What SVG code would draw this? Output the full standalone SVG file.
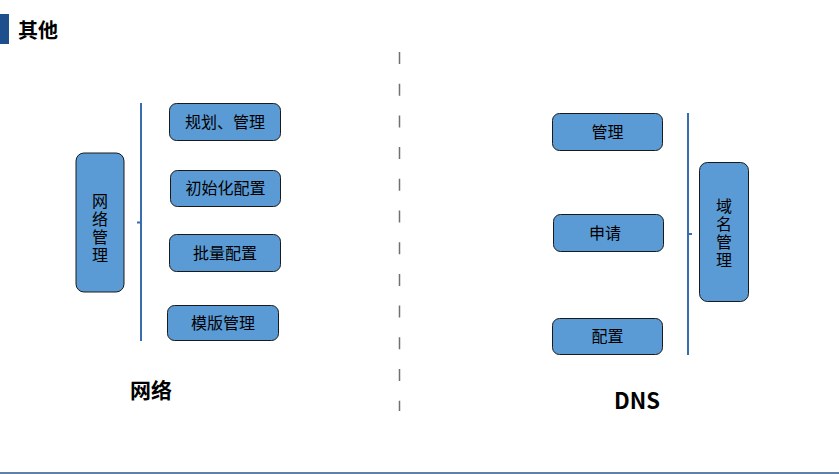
<svg xmlns="http://www.w3.org/2000/svg" width="839" height="474" viewBox="0 0 839 474">
<style>
.box{fill:#5B9BD5;stroke:#1a1a1a;stroke-width:1}
.t{font-family:"Noto Sans CJK SC","Liberation Sans",sans-serif;font-size:16px;fill:#000;text-anchor:middle}
.v{font-family:"Noto Sans CJK SC","Liberation Sans",sans-serif;font-size:16px;fill:#000;text-anchor:middle;writing-mode:vertical-rl;letter-spacing:2px}
.b{font-family:"Noto Sans CJK SC","Liberation Sans",sans-serif;font-size:20px;font-weight:bold;fill:#000}
.br{fill:none;stroke:#3A6DB0;stroke-width:2}
</style>
<rect x="0" y="0" width="839" height="474" fill="#fff"/>
<g id="title">
<rect x="0" y="14" width="9" height="30" fill="#1F4E8C"/>
<text class="b" x="18" y="38">其他</text>
</g>
<g id="divider">
<line x1="399.5" y1="52" x2="399.5" y2="411" stroke="#707070" stroke-width="1.5" stroke-dasharray="12,19.7"/>
</g>
<g id="connectors">
<path class="br" d="M141,103 V341 M141,222.5 H137"/>
<path class="br" d="M688,113 V355 M688,234 H692"/>
</g>
<g id="net-mgmt">
<rect class="box" x="76" y="153" width="48" height="139" rx="8"/>
<text class="v" x="100" y="229">网络管理</text>
</g>
<g id="n1"><rect class="box" x="169.5" y="103.5" width="111" height="37" rx="7"/><text class="t" x="225" y="128">规划、管理</text></g>
<g id="n2"><rect class="box" x="170.5" y="170.5" width="110" height="36" rx="7"/><text class="t" x="225.5" y="194">初始化配置</text></g>
<g id="n3"><rect class="box" x="169.5" y="234.5" width="111" height="37" rx="7"/><text class="t" x="225" y="259">批量配置</text></g>
<g id="n4"><rect class="box" x="167.5" y="305.5" width="111" height="35" rx="7"/><text class="t" x="223" y="329">模版管理</text></g>
<g id="label-net"><text class="b" x="130" y="398" style="font-size:21px">网络</text></g>
<g id="dns-mgmt">
<rect class="box" x="699.5" y="162.5" width="49" height="139" rx="8"/>
<text class="v" x="724" y="234">域名管理</text>
</g>
<g id="d1"><rect class="box" x="552.5" y="113.5" width="110" height="37" rx="7"/><text class="t" x="607.5" y="138">管理</text></g>
<g id="d2"><rect class="box" x="553.5" y="214.5" width="110" height="37" rx="7"/><text class="t" x="605" y="239">申请</text></g>
<g id="d3"><rect class="box" x="552.5" y="318.5" width="110" height="36" rx="7"/><text class="t" x="607.5" y="342">配置</text></g>
<g id="label-dns"><text class="b" x="614" y="409" style="font-size:22px">DNS</text></g>
<line x1="0" y1="473" x2="839" y2="473" stroke="#2E5587" stroke-width="1.5"/>
</svg>
